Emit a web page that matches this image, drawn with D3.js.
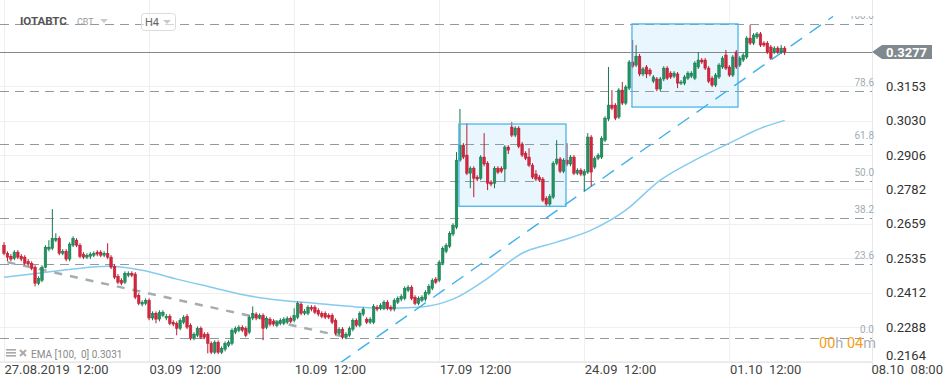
<!DOCTYPE html>
<html>
<head>
<meta charset="utf-8">
<script src="https://cdn.jsdelivr.net/npm/d3@7"></script>
<style>
body { margin: 0; background: #fff; }
svg { display: block; font-family: Roboto, "Noto Sans", sans-serif; }
</style>
</head>
<body>
<svg id="svg" width="945" height="387"></svg>
<script>
// H4 candles of IOTABTC, first one at 27.08.2019 12:00
var opens = [
  .2582,.2553,.2542,.2535,.2557,.2542,.2539,.2524,.2517,.2503,
  .2445,.2456,.2503,.2568,.2571,.2600,.2607,.2553,.2560,.2532,
  .2582,.2600,.2582,.2550,.2539,.2542,.2546,.2557,.2557,.2546,
  .2553,.2539,.2506,.2470,.2456,.2449,.2474,.2481,.2478,.2402,
  .2370,.2373,.2384,.2320,.2337,.2316,.2330,.2320,.2326,.2305,
  .2301,.2283,.2305,.2326,.2294,.2247,.2258,.2283,.2262,.2262,
  .2229,.2197,.2233,.2197,.2208,.2222,.2229,.2269,.2276,.2287,
  .2283,.2269,.2320,.2334,.2323,.2330,.2287,.2316,.2308,.2294,
  .2301,.2301,.2305,.2319,.2312,.2323,.2370,.2337,.2337,.2359,
  .2359,.2348,.2337,.2337,.2330,.2330,.2312,.2265,.2280,.2251,
  .2258,.2280,.2312,.2294,.2334,.2316,.2305,.2305,.2359,.2355,
  .2355,.2377,.2359,.2352,.2377,.2388,.2391,.2420,.2431,.2395,
  .2373,.2384,.2388,.2409,.2427,.2460,.2456,.2517,.2560,.2578,
  .2622,.2647,.2888,.2942,.2906,.2841,.2859,.2827,.2823,.2899,
  .2877,.2809,.2805,.2859,.2859,.2856,.2935,.3007,.2978,.3003,
  .2946,.2913,.2899,.2870,.2838,.2827,.2820,.2751,.2730,.2755,
  .2877,.2892,.2848,.2888,.2874,.2899,.2841,.2852,.2834,.2845,
  .2971,.2863,.2895,.2899,.2960,.3036,.3086,.3086,.3043,.3140,
  .3093,.3147,.3241,.3230,.3262,.3198,.3223,.3212,.3172,.3180,
  .3144,.3180,.3219,.3201,.3190,.3198,.3165,.3165,.3183,.3190,
  .3183,.3223,.3248,.3248,.3219,.3183,.3158,.3187,.3223,.3266,
  .3223,.3194,.3277,.3230,.3248,.3259,.3327,.3309,.3331,.3342,
  .3309,.3309,.3295,.3277,.3291,.3277,.3291
];
var highs = [
  .2593,.2560,.2550,.2564,.2564,.2550,.2546,.2532,.2524,.2510,
  .2470,.2510,.2582,.2600,.2712,.2625,.2614,.2568,.2568,.2593,
  .2614,.2607,.2589,.2557,.2553,.2557,.2560,.2564,.2564,.2560,
  .2589,.2546,.2514,.2478,.2463,.2488,.2488,.2488,.2485,.2409,
  .2384,.2391,.2391,.2344,.2344,.2348,.2348,.2334,.2334,.2312,
  .2308,.2319,.2330,.2334,.2301,.2269,.2290,.2290,.2269,.2269,
  .2236,.2240,.2240,.2218,.2236,.2240,.2283,.2290,.2294,.2294,
  .2290,.2330,.2362,.2341,.2337,.2337,.2326,.2323,.2316,.2312,
  .2319,.2323,.2326,.2326,.2355,.2380,.2377,.2352,.2366,.2366,
  .2366,.2355,.2344,.2344,.2337,.2337,.2319,.2287,.2287,.2269,
  .2290,.2319,.2319,.2344,.2359,.2323,.2323,.2370,.2366,.2373,
  .2384,.2384,.2366,.2391,.2398,.2406,.2434,.2438,.2438,.2402,
  .2398,.2402,.2420,.2442,.2463,.2467,.2528,.2578,.2589,.2632,
  .2661,.2917,.3072,.2949,.3021,.2866,.2866,.2834,.2906,.2985,
  .2884,.2816,.2866,.2866,.2866,.2942,.2942,.3025,.3010,.3010,
  .2953,.2920,.2931,.2877,.2852,.2834,.2827,.2758,.2766,.2884,
  .2960,.2899,.2895,.2949,.2906,.2906,.2859,.2859,.2856,.2985,
  .2978,.2902,.2913,.2974,.3046,.3223,.3140,.3093,.3147,.3169,
  .3158,.3248,.3320,.3302,.3270,.3223,.3230,.3219,.3194,.3187,
  .3187,.3226,.3226,.3208,.3208,.3205,.3176,.3194,.3208,.3208,
  .3244,.3277,.3255,.3255,.3226,.3190,.3201,.3237,.3262,.3284,
  .3230,.3266,.3284,.3262,.3273,.3334,.3374,.3345,.3349,.3349,
  .3316,.3316,.3302,.3298,.3298,.3302,.3298
];
var lows = [
  .2546,.2524,.2524,.2528,.2532,.2524,.2510,.2506,.2492,.2434,
  .2438,.2449,.2499,.2560,.2564,.2593,.2546,.2546,.2524,.2524,
  .2575,.2575,.2535,.2532,.2532,.2532,.2539,.2542,.2539,.2539,
  .2532,.2496,.2460,.2442,.2438,.2442,.2467,.2467,.2388,.2366,
  .2362,.2366,.2312,.2312,.2301,.2308,.2323,.2312,.2294,.2290,
  .2258,.2276,.2298,.2280,.2240,.2240,.2251,.2244,.2244,.2193,
  .2190,.2190,.2190,.2190,.2200,.2215,.2222,.2262,.2269,.2269,
  .2251,.2262,.2312,.2312,.2316,.2240,.2280,.2290,.2290,.2287,
  .2294,.2294,.2298,.2301,.2305,.2316,.2330,.2330,.2330,.2344,
  .2334,.2326,.2319,.2316,.2316,.2298,.2258,.2258,.2244,.2244,
  .2251,.2272,.2287,.2287,.2326,.2298,.2298,.2298,.2344,.2348,
  .2348,.2348,.2344,.2344,.2370,.2380,.2384,.2413,.2384,.2366,
  .2366,.2377,.2380,.2402,.2420,.2442,.2449,.2510,.2553,.2571,
  .2614,.2640,.2881,.2892,.2834,.2787,.2755,.2812,.2816,.2866,
  .2780,.2794,.2787,.2838,.2841,.2809,.2910,.2971,.2971,.2931,
  .2899,.2888,.2863,.2820,.2812,.2809,.2737,.2722,.2722,.2748,
  .2870,.2841,.2841,.2866,.2866,.2834,.2834,.2830,.2776,.2838,
  .2794,.2856,.2888,.2892,.2953,.3028,.3068,.3032,.3036,.3086,
  .3086,.3140,.3219,.3223,.3190,.3190,.3183,.3190,.3165,.3136,
  .3136,.3172,.3176,.3180,.3183,.3147,.3158,.3158,.3176,.3183,
  .3176,.3216,.3234,.3212,.3165,.3151,.3151,.3180,.3216,.3212,
  .3187,.3187,.3216,.3223,.3241,.3252,.3302,.3302,.3324,.3295,
  .3295,.3270,.3248,.3270,.3270,.3270,.3266
];
var closes = [
  .2553,.2539,.2532,.2557,.2539,.2532,.2517,.2514,.2499,.2445,
  .2463,.2503,.2575,.2575,.2607,.2607,.2553,.2560,.2532,.2586,
  .2607,.2582,.2542,.2539,.2546,.2550,.2553,.2550,.2546,.2553,
  .2539,.2503,.2467,.2449,.2445,.2481,.2481,.2474,.2395,.2373,
  .2377,.2384,.2320,.2337,.2316,.2341,.2341,.2326,.2301,.2298,
  .2283,.2312,.2323,.2287,.2247,.2262,.2283,.2251,.2251,.2229,
  .2197,.2233,.2197,.2211,.2229,.2233,.2276,.2283,.2287,.2276,
  .2258,.2323,.2337,.2320,.2330,.2283,.2319,.2298,.2298,.2305,
  .2312,.2316,.2319,.2308,.2330,.2373,.2337,.2344,.2359,.2352,
  .2341,.2334,.2326,.2323,.2323,.2305,.2265,.2280,.2251,.2262,
  .2283,.2312,.2294,.2337,.2352,.2305,.2316,.2362,.2352,.2366,
  .2377,.2355,.2352,.2384,.2391,.2398,.2427,.2431,.2391,.2373,
  .2391,.2395,.2413,.2434,.2456,.2449,.2521,.2571,.2582,.2625,
  .2654,.2888,.2942,.2899,.2841,.2859,.2823,.2820,.2899,.2874,
  .2805,.2802,.2859,.2845,.2848,.2935,.2924,.2978,.3003,.2938,
  .2906,.2895,.2870,.2827,.2820,.2816,.2744,.2730,.2758,.2877,
  .2892,.2848,.2888,.2874,.2899,.2841,.2852,.2838,.2848,.2971,
  .2845,.2895,.2906,.2967,.3039,.3086,.3075,.3039,.3140,.3093,
  .3151,.3241,.3226,.3262,.3198,.3216,.3198,.3198,.3187,.3144,
  .3180,.3219,.3183,.3187,.3201,.3165,.3169,.3187,.3201,.3201,
  .3237,.3248,.3241,.3219,.3172,.3158,.3194,.3230,.3255,.3219,
  .3194,.3259,.3223,.3255,.3266,.3327,.3309,.3338,.3342,.3302,
  .3302,.3277,.3255,.3291,.3277,.3291,.3277
];

// EMA(100), by candle index
var emaIdx  = [0, 10, 20, 30, 40, 50, 60, 70, 80, 90, 100, 110, 120, 130, 140, 150, 160, 170, 180, 190, 200, 210, 220, 226];
var emaVals = [.2467,.2481,.2496,.2506,.2492,.2460,.2431,.2402,.2384,.2373,.2362,.2355,.2359,.2388,.2463,.2553,.2593,.2636,.2708,.2816,.2888,.2949,.3007,.3031];

var priceTickLabels = ["0.2164", "0.2288", "0.2412", "0.2535", "0.2659", "0.2782", "0.2906", "0.3030", "0.3153"];
var timeTickLabels = ["27.08.2019  12:00", "03.09  12:00", "10.09  12:00", "17.09  12:00", "24.09  12:00", "01.10  12:00", "08.10  08:00"];
var timeTickDates = [new Date(2019, 7, 27, 12), new Date(2019, 8, 3, 12), new Date(2019, 8, 10, 12), new Date(2019, 8, 17, 12),
                     new Date(2019, 8, 24, 12), new Date(2019, 9, 1, 12), new Date(2019, 9, 8, 8)];

// fibonacci retracement between these two prices
var fibLevels = [0, 23.6, 38.2, 50.0, 61.8, 78.6, 100.0];
var fibLow = 0.2247, fibHigh = 0.3378;

// rectangles (candle index from / to, price top / bottom)
var boxFrom = [131.7, 181.8];
var boxTo = [162.7, 212.5];
var boxTop = [0.3018, 0.3378];
var boxBottom = [0.2722, 0.3079];

// trend lines: [candle index, price]
var blueTrend = [[97, 0.2156], [240, 0.3405]];
var grayTrend = [[1, 0.2521], [98, 0.2254]];

var lastPrice = 0.3277;
var emaLabel = "EMA [100,  0] 0.3031";

var svg = d3.select("#svg"),
    plotLeft = 0, plotRight = 872, plotTop = 16, plotBottom = 362;

var t0 = new Date(2019, 7, 27, 12);
var H4 = 4 * 3600 * 1000;
function candleTime(i) { return new Date(t0.getTime() + i * H4); }

var x = d3.scaleTime()
    .domain([t0, timeTickDates[timeTickDates.length - 1]])
    .range([4, 871]);
var y = d3.scaleLinear()
    .domain([0.2164, 0.3154])
    .range([361.4, 86.2]);
var priceTicks = d3.range(priceTickLabels.length).map(function(k) { return 0.2164 + k * 0.012375; });

svg.append("defs").append("clipPath").attr("id", "plot")
    .append("rect").attr("x", plotLeft).attr("y", plotTop).attr("width", plotRight + 4).attr("height", plotBottom - plotTop);

// grid
var grid = svg.append("g").attr("class", "grid");
grid.selectAll(".hg").data(priceTicks).enter().append("line")
    .attr("x1", 0).attr("x2", plotRight)
    .attr("y1", function(d) { return Math.round(y(d)) + 0.5; })
    .attr("y2", function(d) { return Math.round(y(d)) + 0.5; })
    .attr("stroke", "#efefef");
grid.selectAll(".vg").data(timeTickDates.slice(0, -1)).enter().append("line")
    .attr("y1", 0).attr("y2", plotBottom)
    .attr("x1", function(d) { return Math.round(x(d)) + 0.5; })
    .attr("x2", function(d) { return Math.round(x(d)) + 0.5; })
    .attr("stroke", "#efefef");
grid.append("line").attr("x1", 0).attr("x2", plotRight).attr("y1", plotBottom + 0.5).attr("y2", plotBottom + 0.5).attr("stroke", "#e8e8e8");
grid.append("line").attr("x1", plotRight + 0.5).attr("x2", plotRight + 0.5).attr("y1", 0).attr("y2", plotBottom + 10).attr("stroke", "#e8e8e8");

var plot = svg.append("g").attr("clip-path", "url(#plot)");

// rectangles
plot.selectAll(".box").data(boxFrom).enter().append("rect")
    .attr("x", function(d, i) { return x(candleTime(d)); })
    .attr("y", function(d, i) { return y(boxTop[i]); })
    .attr("width", function(d, i) { return x(candleTime(boxTo[i])) - x(candleTime(d)); })
    .attr("height", function(d, i) { return y(boxBottom[i]) - y(boxTop[i]); })
    .attr("fill", "#eaf6fd");

// fibonacci lines
function fibPrice(l) { return fibLow + (fibHigh - fibLow) * l / 100; }
plot.selectAll(".fib").data(fibLevels).enter().append("line")
    .attr("x1", 0).attr("x2", plotRight)
    .attr("y1", function(d) { return Math.round(y(fibPrice(d))) + 0.5; })
    .attr("y2", function(d) { return Math.round(y(fibPrice(d))) + 0.5; })
    .attr("stroke", "#8c9ba4")
    .attr("stroke-width", 1.2)
    .attr("stroke-dasharray", "9,6");
plot.selectAll(".fibl").data(fibLevels).enter().append("text")
    .attr("x", 874)
    .attr("y", function(d) { return y(fibPrice(d)) - 5; })
    .attr("text-anchor", "end")
    .attr("font-size", 10)
    .attr("fill", "#9fadb6")
    .text(function(d) { return d.toFixed(1); });

// last price line
plot.append("line")
    .attr("x1", 0).attr("x2", plotRight)
    .attr("y1", Math.round(y(lastPrice)) + 0.5).attr("y2", Math.round(y(lastPrice)) + 0.5)
    .attr("stroke", "#7f898e");

// EMA
plot.append("path")
    .datum(emaIdx)
    .attr("fill", "none")
    .attr("stroke", "#86cbef")
    .attr("stroke-width", 1.5)
    .attr("d", d3.line()
        .curve(d3.curveMonotoneX)
        .x(function(d) { return x(candleTime(d)); })
        .y(function(d, i) { return y(emaVals[i]); }));

// trend lines
var trendLine = d3.line()
    .x(function(d) { return x(candleTime(d[0])); })
    .y(function(d) { return y(d[1]); });
plot.append("path").datum(grayTrend)
    .attr("d", trendLine)
    .attr("stroke", "#a3adb3").attr("stroke-width", 2.5).attr("stroke-dasharray", "8,8").attr("fill", "none");
plot.append("path").datum(blueTrend)
    .attr("d", trendLine)
    .attr("stroke", "#3eb0ea").attr("stroke-width", 1.4).attr("stroke-dasharray", "14,9").attr("fill", "none");

// candles
var candles = plot.append("g").selectAll("g").data(opens).enter().append("g");
function cx(i) { return x(candleTime(i)); }
candles.append("line")
    .attr("x1", function(d, i) { return cx(i); })
    .attr("x2", function(d, i) { return cx(i); })
    .attr("y1", function(d, i) { return y(highs[i]); })
    .attr("y2", function(d, i) { return y(lows[i]); })
    .attr("stroke", function(d, i) { return closes[i] >= d ? "#15784f" : "#b81c31"; })
    .attr("stroke-width", 1);
candles.append("rect")
    .attr("x", function(d, i) { return cx(i) - 1.3; })
    .attr("width", 2.6)
    .attr("y", function(d, i) { return y(Math.max(d, closes[i])); })
    .attr("height", function(d, i) { return Math.max(1, Math.abs(y(d) - y(closes[i]))); })
    .attr("fill", function(d, i) { return closes[i] >= d ? "#22925f" : "#d4263e"; })
    .attr("stroke", function(d, i) { return closes[i] >= d ? "#15784f" : "#b81c31"; })
    .attr("stroke-width", 0.5);

// rectangle borders on top
plot.selectAll(".boxb").data(boxFrom).enter().append("rect")
    .attr("x", function(d, i) { return x(candleTime(d)); })
    .attr("y", function(d, i) { return y(boxTop[i]); })
    .attr("width", function(d, i) { return x(candleTime(boxTo[i])) - x(candleTime(d)); })
    .attr("height", function(d, i) { return y(boxBottom[i]) - y(boxTop[i]); })
    .attr("fill", "none")
    .attr("stroke", "#4ab5e8")
    .attr("stroke-width", 1.3);

// axes
var yAxis = svg.append("g")
    .attr("transform", "translate(" + plotRight + ",0)")
    .call(d3.axisRight(y).tickValues(priceTicks).tickSize(0).tickPadding(14)
        .tickFormat(function(d, i) { return priceTickLabels[i]; }));
yAxis.select(".domain").remove();
yAxis.selectAll("text").attr("font-size", 13).attr("fill", "#333").attr("font-family", "Roboto, sans-serif")
    .attr("y", function(d, i) { return i === 0 ? -6 : 0; });

var xAxis = svg.append("g")
    .attr("transform", "translate(0," + plotBottom + ")")
    .call(d3.axisBottom(x).tickValues(timeTickDates).tickSize(0).tickPadding(3)
        .tickFormat(function(d, i) { return timeTickLabels[i]; }));
xAxis.select(".domain").remove();
xAxis.selectAll("text").attr("font-size", 13).attr("fill", "#444").attr("font-family", "Roboto, sans-serif")
    .attr("text-anchor", "start").attr("x", 0).style("white-space", "pre");

// last price tag
var yp = y(lastPrice);
svg.append("path")
    .attr("d", "M" + plotRight + "," + yp + "L882," + (yp - 7) + "L932," + (yp - 7) + "L932," + (yp + 7) + "L882," + (yp + 7) + "Z")
    .attr("fill", "#7f898e");
svg.append("text")
    .attr("x", 886).attr("y", yp + 4.5)
    .attr("font-size", 13).attr("font-weight", "bold").attr("fill", "#fff")
    .text(d3.format(".4f")(lastPrice));

// header
var head = svg.append("g");
head.append("text").attr("x", 20).attr("y", 25).attr("font-size", 11.5).attr("font-weight", "bold").attr("fill", "#555").text("IOTABTC");
head.append("text").attr("x", 77).attr("y", 25).attr("font-size", 9).attr("fill", "#9a9a9a").text("CBT");
head.append("path").attr("d", "M100,19L108,19L104,23Z").attr("fill", "#c9c9c9");
head.append("rect").attr("x", 141.5).attr("y", 13.5).attr("width", 34).attr("height", 17).attr("rx", 3)
    .attr("fill", "#fff").attr("fill-opacity", 0.6).attr("stroke", "#dcdcdc");
head.append("text").attr("x", 145).attr("y", 26).attr("font-size", 11).attr("fill", "#666").text("H4");
head.append("path").attr("d", "M163,20L171,20L167,24Z").attr("fill", "#c9c9c9");

// countdown
var cd = svg.append("text").attr("x", 819).attr("y", 348).attr("font-size", 14.5);
cd.append("tspan").attr("fill", "#f7a01c").text("00");
cd.append("tspan").attr("fill", "#a9b1b6").text("h ");
cd.append("tspan").attr("fill", "#f7a01c").text("04");
cd.append("tspan").attr("fill", "#a9b1b6").text("m");

// indicator legend
var leg = svg.append("g");
[349, 352, 355].forEach(function(v) {
    leg.append("rect").attr("x", 6).attr("y", v).attr("width", 10).attr("height", 1.6).attr("fill", "#aaa");
});
leg.append("path").attr("d", "M20,350L26,356M26,350L20,356").attr("stroke", "#aaa").attr("stroke-width", 2);
leg.append("text").attr("x", 31).attr("y", 358).attr("font-size", 10).attr("fill", "#8a8a8a")
    .style("white-space", "pre").text(emaLabel);
</script>
</body>
</html>
